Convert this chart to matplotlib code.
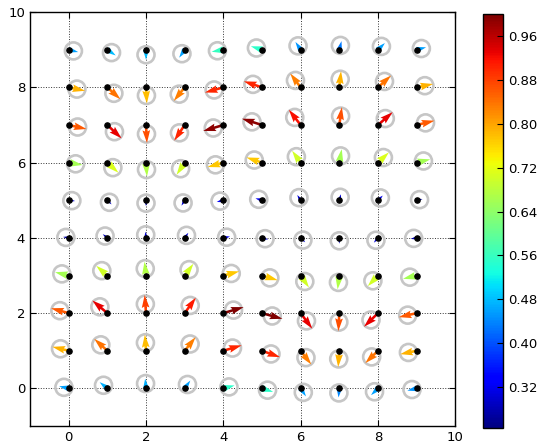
import numpy as np
import matplotlib
matplotlib.use("Agg")
import matplotlib.pyplot as plt

# grid positions
xs = np.arange(10)
ys = np.arange(10)

# arrow directions (degrees, counter-clockwise from +x), one row per y = 0..9
angles = [
    [167, 140, 95, 55, 15, -18, -57, -95, -135, 194],       # y=0
    [166, 137, 94, 52, 17, -20, -53, -94, -135, 192],       # y=1
    [164, 139, 94, 55, 17, -16, -54, -93, -135, 193],       # y=2
    [166, 138, 96, 54, 15, -17, -56, -97, -133, 194],       # y=3
    [170, 140, 95, 55, 12, -15, -45, -90, -130, 190],       # y=4
    [-7, -45, -90, -120, 195, 163, 122, 75, 45, 12],        # y=5
    [-10, -43, -86, -123, 196, 161, 125, 80, 44, 14],       # y=6
    [-13, -44, -87, -123, 197, 162, 127, 82, 42, 14],       # y=7
    [-12, -43, -87, -128, 196, 161, 126, 84, 43, 12],       # y=8
    [-14, -35, -90, -124, 190, 162, 123, 76, 45, 15],       # y=9
]

# magnitudes (also the arrow colour), one row per y = 0..9
mags = [
    [0.46, 0.47, 0.47, 0.46, 0.55, 0.55, 0.46, 0.44, 0.46, 0.45],
    [0.79, 0.84, 0.78, 0.83, 0.90, 0.90, 0.83, 0.79, 0.84, 0.79],
    [0.86, 0.93, 0.88, 0.91, 1.00, 1.00, 0.93, 0.87, 0.93, 0.86],
    [0.66, 0.70, 0.67, 0.70, 0.77, 0.77, 0.70, 0.67, 0.70, 0.66],
    [0.27, 0.28, 0.30, 0.30, 0.32, 0.30, 0.30, 0.28, 0.30, 0.28],
    [0.30, 0.28, 0.28, 0.30, 0.32, 0.32, 0.30, 0.30, 0.32, 0.28],
    [0.66, 0.71, 0.67, 0.70, 0.77, 0.77, 0.70, 0.66, 0.71, 0.66],
    [0.86, 0.93, 0.87, 0.90, 0.99, 0.99, 0.92, 0.87, 0.93, 0.86],
    [0.79, 0.84, 0.78, 0.83, 0.90, 0.90, 0.83, 0.79, 0.84, 0.79],
    [0.46, 0.48, 0.48, 0.46, 0.56, 0.55, 0.45, 0.43, 0.46, 0.46],
]

cbar_ticks = [0.32, 0.40, 0.48, 0.56, 0.64, 0.72, 0.80, 0.88, 0.96]

X, Y = np.meshgrid(xs, ys)
th = np.radians(np.array(angles, dtype=float))
M = np.array(mags)
L = 0.55 * M
U = L * np.cos(th)
V = L * np.sin(th)

plt.rcParams['font.family'] = ['DejaVu Sans']
plt.rcParams['font.size'] = 9.5

fig = plt.figure(figsize=(5.39, 4.46), dpi=100)
ax = fig.add_axes([0.0557, 0.0448, 0.789, 0.928])
cax = fig.add_axes([0.896, 0.040, 0.037, 0.928])

# grey circles around the middle of each arrow
ax.scatter(X + U / 2, Y + V / 2, s=150, facecolors='none',
           edgecolors='#c6c6c6', linewidths=1.9, zorder=2)

q = ax.quiver(X, Y, U, V, M, cmap='jet', angles='xy', scale_units='xy',
              scale=1, pivot='tail', zorder=3)
q.set_clim(0.245, 1.0)

ax.scatter(X, Y, s=14, color='k', zorder=4)

ax.set_xlim(-1, 10)
ax.set_ylim(-1, 10)
ax.set_xticks([0, 2, 4, 6, 8, 10])
ax.set_yticks([0, 2, 4, 6, 8, 10])
ax.grid(True, color='k', linestyle=':', linewidth=0.7, alpha=0.8)
ax.tick_params(direction='in', top=True, right=True, length=4)
for sp in ax.spines.values():
    sp.set_linewidth(1.0)

cb = fig.colorbar(q, cax=cax, ticks=cbar_ticks, format='%.2f')
cb.ax.tick_params(direction='in', length=4)
cb.outline.set_linewidth(1.0)

fig.savefig('out.png', dpi=100)
